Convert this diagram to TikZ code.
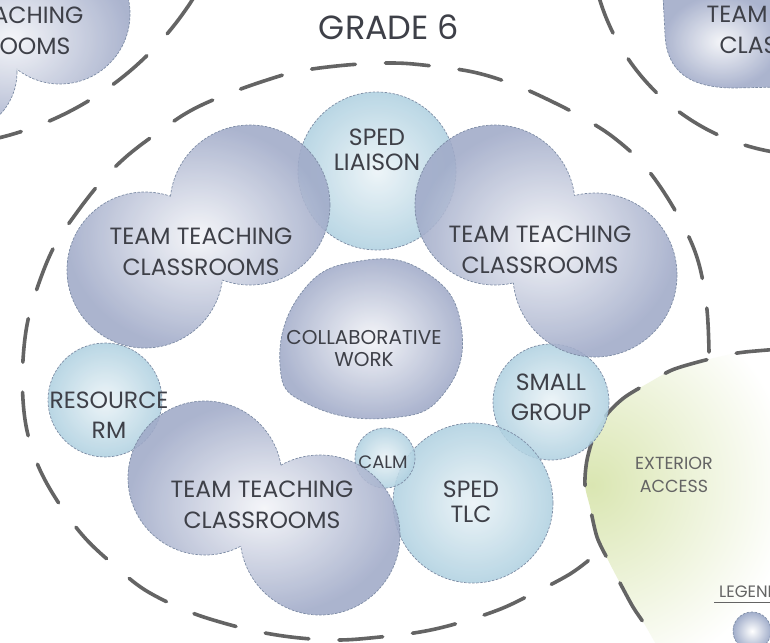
\documentclass[tikz,border=0pt]{standalone}
\usepackage{fontspec}
\setmainfont{Poppins}
\definecolor{ttedge}{RGB}{160,170,200}
\definecolor{lbedge}{RGB}{174,208,224}
\definecolor{outl}{RGB}{125,140,165}
\definecolor{ringc}{RGB}{100,100,100}
\definecolor{txt}{RGB}{62,64,72}
\definecolor{extg}{RGB}{218,230,178}
\definecolor{exttxt}{RGB}{100,100,100}
\tikzset{
  ring/.style={draw=ringc, line width=3.6pt, line cap=round, dash pattern=on 44pt off 30pt},
  ttfill/.style={inner color=white!88!ttedge, outer color=ttedge, fill opacity=0.88},
  lbfill/.style={inner color=white!75!lbedge, outer color=lbedge, fill opacity=0.85},
  bubline/.style={draw=outl, line width=0.7pt, dash pattern=on 2.5pt off 1.5pt},
  lbl/.style={text=txt, align=center, inner sep=0pt},
  ttlbl/.style={lbl, font=\fontsize{23.5}{31}\selectfont},
  lblbl/.style={lbl, font=\fontsize{23.5}{25}\selectfont},
}
\newcommand\tcloud[4]{%
  \shade[ttfill] (#1) circle (#2) (#3) circle (#4);
  \begin{scope}[even odd rule]
    \clip (-200,-200) rectangle (1000,900) (#3) circle (#4);
    \draw[bubline] (#1) circle (#2);
  \end{scope}
  \begin{scope}[even odd rule]
    \clip (-200,-200) rectangle (1000,900) (#1) circle (#2);
    \draw[bubline] (#3) circle (#4);
  \end{scope}}
\newcommand\lbcircle[2]{%
  \shade[lbfill] (#1) circle (#2);
  \draw[bubline] (#1) circle (#2);}
\begin{document}
\begin{tikzpicture}[x=1pt,y=-1pt]
\useasboundingbox (0,0) rectangle (770,642);
\fill[white] (0,0) rectangle (770,642);
\clip (0,0) rectangle (770,642);
% exterior access area
\begin{scope}
  \clip plot[smooth] coordinates {(780,349) (745,352) (727,355) (698,362) (672,370) (650,382) (625,397) (608,413) (595,433) (587,460) (585,485) (590,507) (597,537) (608,560) (620,583) (633,607) (645,625) (658,648)} -- (780,650) -- cycle;
  \shade[inner color=extg, outer color=white] (592,485) circle (200);
\end{scope}
\draw[ring] plot[smooth] coordinates {(780,349) (745,352) (727,355) (698,362) (672,370) (650,382) (625,397) (608,413) (595,433) (587,460) (585,485) (590,507) (597,537) (608,560) (620,583) (633,607) (645,625) (658,648)};
% grade 6 boundary
\draw[ring] plot[smooth, tension=0.6] coordinates {(709,352) (707,310) (700,268) (688,235) (667,197) (642,163) (613,137) (585,119) (555,103) (515,85) (473,72) (423,65) (390,63) (347,65) (300,71) (267,80) (225,95) (190,111) (160,131) (127,156) (100,183) (75,215) (55,245) (40,280) (28,320) (23,360) (23,400) (28,435) (40,470) (60,505) (85,538) (115,566) (145,590) (185,610) (220,622) (260,632) (300,638) (340,640) (380,637) (420,632) (455,624) (498,610) (530,595) (570,574) (595,555)};
% neighbouring boundaries
\draw[ring] (-77,-173) ++(80:320) arc[start angle=80, end angle=20, radius=320];
\draw[ring] (810,-65) ++(165:220) arc[start angle=165, end angle=92, radius=220];
% neighbouring classrooms
\tcloud{60,14}{70}{-45,72}{62}
\shade[ttfill] (663,-5) -- (665,35) .. controls (667,72) and (690,88) .. (735,88) -- (780,87) -- (780,-5) -- cycle;
\draw[bubline] (663,-5) -- (665,35) .. controls (667,72) and (690,88) .. (735,88) -- (780,87);
% light blue rooms
\lbcircle{377,171}{79}
\lbcircle{105,400}{57}
\lbcircle{551,402}{58}
\lbcircle{473,503}{80}
\lbcircle{385,458}{30}
% team teaching classrooms
\tcloud{145,270}{78}{250,205}{80}
\tcloud{495,205}{80}{595,275}{82}
\tcloud{205,478}{77}{320,535}{80}
% collaborative work
\shade[ttfill] plot[smooth cycle, tension=0.8] coordinates {(280,365) (302,292) (360,261) (425,272) (461,325) (445,392) (390,418) (310,405)};
\draw[bubline] plot[smooth cycle, tension=0.8] coordinates {(280,365) (302,292) (360,261) (425,272) (461,325) (445,392) (390,418) (310,405)};
% legend
\shade[inner color=white, outer color=ttedge!90!lbedge] (752,631) circle (19);
\draw[bubline] (752,631) circle (19);
\node[lbl, anchor=west, text=exttxt, font=\fontsize{16.5}{18}\selectfont] (legend) at (719,592) {LEGEND};
\draw[exttxt, line width=0.8pt] (714,602) -- (780,602);
% labels
\node[lbl, font=\fontsize{33.5}{38}\selectfont] (title) at (389,27) {GRADE 6};
\node[ttlbl] (tltext) at (-8,31) {TEAM TEACHING\\CLASSROOMS};
\node[ttlbl] (trtext) at (798,30) {TEAM TEACHING\\CLASSROOMS};
\node[ttlbl] (ultext) at (201,252) {TEAM TEACHING\\CLASSROOMS};
\node[ttlbl] (urtext) at (540,250) {TEAM TEACHING\\CLASSROOMS};
\node[ttlbl] (lwtext) at (262,505) {TEAM TEACHING\\CLASSROOMS};
\node[lblbl] (liaison) at (377,150) {SPED\\LIAISON};
\node[lblbl, font=\fontsize{23.5}{30}\selectfont] (resource) at (109,415) {RESOURCE\\RM};
\node[lblbl, font=\fontsize{23.5}{30}\selectfont] (small) at (551,397) {SMALL\\GROUP};
\node[lblbl] (tlc) at (471,502) {SPED\\TLC};
\node[lbl, font=\fontsize{18}{20}\selectfont] (calm) at (383,462) {CALM};
\node[lbl, font=\fontsize{20}{22}\selectfont] (collab) at (364,349) {COLLABORATIVE\\WORK};
\node[lbl, text=exttxt, font=\fontsize{17.5}{23}\selectfont] (exterior) at (674,475) {EXTERIOR\\ACCESS};
\end{tikzpicture}
\end{document}
